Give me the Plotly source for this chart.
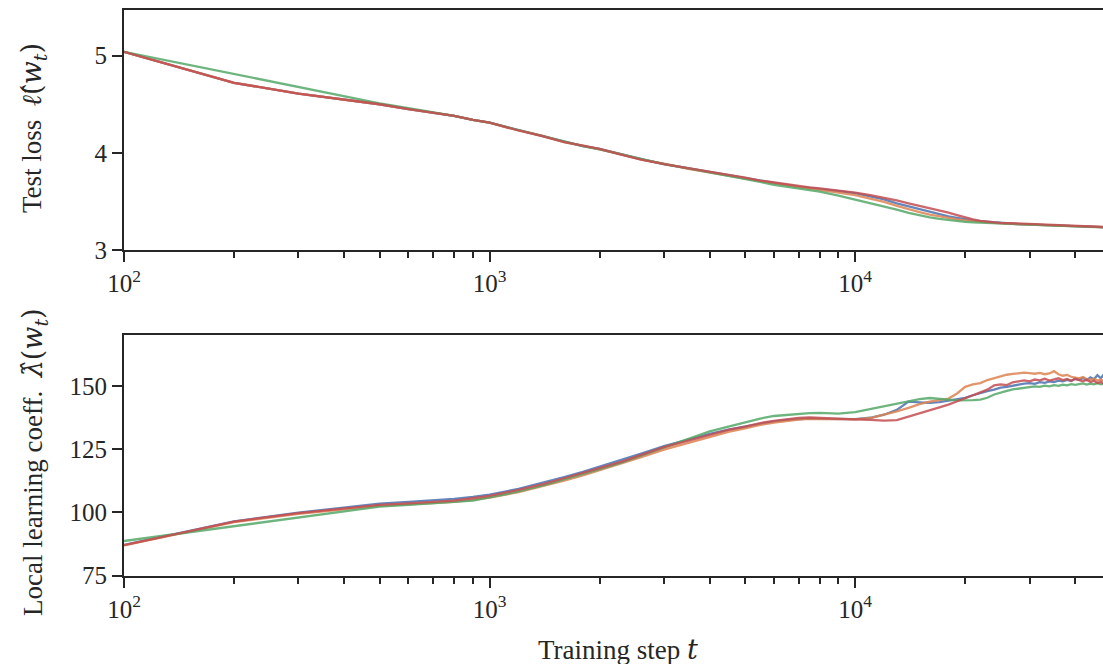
import plotly.graph_objects as go

# ---------------- data ----------------
steps = [100, 200, 300, 400, 500, 600, 700, 800, 900, 1000,
         1200, 1400, 1600, 1800, 2000, 2300, 2600, 3000, 3500, 4000,
         4500, 5000, 5500, 6000, 6500, 7000, 7500, 8000, 9000, 10000,
         11000, 12000, 13000, 14000, 15000, 16000, 17000, 18000, 19000, 20000,
         21000, 22000, 23000, 24000, 25000, 26000, 27000, 28000, 29000, 30000,
         31000, 32000, 33000, 34000, 35000, 36000, 37000, 38000, 39000, 40000,
         41000, 42000, 43000, 44000, 45000, 46000, 47000, 48000]

loss_blue = [5.04, 4.72, 4.61, 4.55, 4.50, 4.45, 4.41, 4.38, 4.34, 4.31,
             4.235, 4.17, 4.115, 4.07, 4.04, 3.98, 3.935, 3.885, 3.84, 3.805,
             3.77, 3.74, 3.715, 3.69, 3.67, 3.65, 3.64, 3.625, 3.605, 3.585,
             3.555, 3.52, 3.48, 3.45, 3.42, 3.39, 3.365, 3.345, 3.33, 3.315,
             3.305, 3.297, 3.29, 3.283, 3.278, 3.274, 3.27, 3.267, 3.265, 3.263,
             3.261, 3.259, 3.257, 3.255, 3.253, 3.252, 3.25, 3.249, 3.247, 3.246,
             3.244, 3.243, 3.241, 3.24, 3.239, 3.237, 3.236, 3.235]
loss_orange = [5.04, 4.72, 4.61, 4.55, 4.50, 4.45, 4.41, 4.38, 4.34, 4.31,
               4.23, 4.175, 4.11, 4.075, 4.035, 3.985, 3.93, 3.89, 3.835, 3.80,
               3.77, 3.735, 3.71, 3.685, 3.665, 3.645, 3.63, 3.615, 3.59, 3.565,
               3.53, 3.495, 3.455, 3.42, 3.39, 3.365, 3.345, 3.33, 3.315, 3.305,
               3.297, 3.29, 3.284, 3.279, 3.275, 3.271, 3.268, 3.265, 3.263, 3.261,
               3.259, 3.257, 3.255, 3.253, 3.252, 3.25, 3.249, 3.247, 3.246, 3.245,
               3.243, 3.242, 3.24, 3.239, 3.238, 3.236, 3.235, 3.234]
loss_green = [5.04, None, None, None, 4.51, 4.46, 4.42, 4.38, 4.34, 4.31,
              4.235, 4.17, 4.12, 4.07, 4.035, 3.985, 3.935, 3.885, 3.84, 3.80,
              3.765, 3.73, 3.70, 3.67, 3.65, 3.63, 3.615, 3.60, 3.56, 3.52,
              3.485, 3.447, 3.415, 3.383, 3.355, 3.336, 3.32, 3.308, 3.297, 3.289,
              3.284, 3.28, 3.277, 3.274, 3.271, 3.269, 3.267, 3.265, 3.263, 3.261,
              3.259, 3.257, 3.255, 3.253, 3.251, 3.25, 3.248, 3.246, 3.245, 3.244,
              3.242, 3.241, 3.24, 3.238, 3.237, 3.235, 3.234, 3.232]
loss_red = [5.04, 4.72, 4.61, 4.55, 4.50, 4.45, 4.41, 4.38, 4.34, 4.31,
            4.23, 4.17, 4.11, 4.07, 4.04, 3.98, 3.93, 3.885, 3.845, 3.81,
            3.775, 3.745, 3.715, 3.695, 3.675, 3.655, 3.645, 3.635, 3.615, 3.59,
            3.565, 3.54, 3.51, 3.48, 3.455, 3.43, 3.41, 3.385, 3.36, 3.335,
            3.315, 3.30, 3.29, 3.285, 3.28, 3.277, 3.274, 3.272, 3.27, 3.268,
            3.266, 3.264, 3.261, 3.259, 3.257, 3.255, 3.253, 3.252, 3.25, 3.248,
            3.246, 3.245, 3.243, 3.242, 3.24, 3.239, 3.237, 3.236]

llc_blue = [87.2, 96.5, 99.9, 102.0, 103.5, 104.2, 104.8, 105.3, 106.1, 107.0,
            109.3, 111.7, 114.0, 116.0, 118.0, 120.6, 123.2, 126.2, 128.8, 131.0,
            132.7, 134.0, 135.2, 136.0, 136.6, 137.0, 137.1, 137.0, 136.9, 136.9,
            137.4, 138.6, 140.5, 143.8, 143.5, 143.3, 143.6, 144.2, 144.9, 145.3,
            146.3, 147.2, 147.9, 148.5, 149.3, 149.6, 150.2, 150.5, 150.9, 151.1,
            150.8, 151.5, 151.2, 151.8, 151.5, 152.1, 151.8, 152.4, 151.9, 152.8,
            152.4, 153.1, 152.3, 153.4, 152.6, 154.2, 153.0, 154.8]
llc_orange = [87.0, 96.2, 99.4, 101.3, 102.6, 103.2, 103.7, 104.2, 105.0, 105.9,
              108.0, 110.3, 112.6, 114.6, 116.6, 119.2, 121.8, 124.8, 127.5, 129.9,
              131.8, 133.2, 134.6, 135.5, 136.2, 136.7, 137.0, 137.0, 136.9, 136.8,
              137.3, 138.6, 139.9, 141.3, 142.8, 143.8, 144.5, 145.0, 147.0, 149.6,
              150.6, 151.1, 152.3, 153.1, 153.8, 154.4, 154.7, 154.9, 155.2, 155.0,
              154.8, 155.1, 154.6, 154.9, 155.8, 154.6, 154.0, 154.3, 153.6, 153.3,
              153.0, 153.5, 152.7, 152.4, 152.8, 152.1, 152.5, 151.8]
llc_green = [88.7, None, None, None, 102.3, 103.0, 103.6, 104.1, 104.7, 105.9,
             108.3, 110.7, 113.0, 115.1, 117.1, 119.8, 122.5, 125.8, 129.2, 132.0,
             133.9, 135.5, 137.1, 138.1, 138.6, 139.0, 139.2, 139.3, 139.0, 139.6,
             140.8, 142.0, 143.0, 144.0, 144.8, 145.2, 145.0, 144.6, 144.3, 144.2,
             144.4, 144.6, 145.3, 146.6, 147.4, 148.0, 148.6, 148.9, 149.3, 149.3,
             149.8, 149.6, 150.1, 149.8, 150.3, 150.0, 150.5, 150.2, 150.7, 150.4,
             150.7, 151.0, 150.5, 150.9, 150.6, 151.1, 150.6, 150.9]
llc_red = [87.1, 96.4, 99.7, 101.7, 103.0, 103.6, 104.2, 104.7, 105.6, 106.5,
           108.9, 111.2, 113.5, 115.5, 117.5, 120.1, 122.7, 125.8, 128.4, 130.7,
           132.6, 133.9, 135.3, 136.2, 136.9, 137.3, 137.5, 137.4, 137.0, 136.8,
           136.6, 136.3, 136.5, 137.8, 139.0, 140.3, 141.5, 142.6, 143.8, 145.0,
           146.3, 147.4, 148.5, 150.2, 150.6, 150.3, 151.4, 151.8, 152.2, 151.8,
           152.5, 152.2, 152.8, 152.1, 152.7, 153.0, 152.3, 152.7, 152.0, 152.8,
           152.3, 151.8, 152.4, 151.5, 152.0, 151.1, 151.6, 150.8]

series_names = ["run 1", "run 2", "run 3", "run 4"]
series_colors = ["#4C72B0", "#DD8452", "#55A868", "#C44E52"]
loss_series = [loss_blue, loss_orange, loss_green, loss_red]
llc_series = [llc_blue, llc_orange, llc_green, llc_red]

x_tickvals = [100, 1000, 10000]
x_ticktext = ["10<sup>2</sup>", "10<sup>3</sup>", "10<sup>4</sup>"]
x_minor = [m * d for d in (100, 1000, 10000) for m in range(2, 10)]
loss_ticks = [3, 4, 5]
llc_ticks = [75, 100, 125, 150]

# ---------------- figure ----------------
W, H = 1103, 664
INK = "#262626"
FONT = "Liberation Serif"
TICK_SIZE = 25
LABEL_SIZE = 27
MATH = 'font-family:DejaVu Serif'

fig = go.Figure()
for name, col, ys in zip(series_names, series_colors, loss_series):
    fig.add_trace(go.Scatter(x=steps, y=ys, mode="lines", name=name, connectgaps=True,
                             line=dict(color=col, width=2.3), opacity=0.85,
                             xaxis="x", yaxis="y", showlegend=False))
for name, col, ys in zip(series_names, series_colors, llc_series):
    fig.add_trace(go.Scatter(x=steps, y=ys, mode="lines", name=name, connectgaps=True,
                             line=dict(color=col, width=2.3), opacity=0.85,
                             xaxis="x2", yaxis="y2", showlegend=False))

def xax(anchor):
    return dict(type="log", range=[2, 4.678], domain=[124 / W, 1.0], anchor=anchor,
                automargin=False,
                showline=True, linecolor=INK, linewidth=2, mirror=True,
                ticks="outside", ticklen=10, tickwidth=2, tickcolor=INK,
                tickvals=x_tickvals, ticktext=x_ticktext,
                tickfont=dict(family=FONT, size=TICK_SIZE, color=INK),
                showgrid=False, zeroline=False,
                minor=dict(tickvals=x_minor, ticks="outside", ticklen=6,
                           tickwidth=1.5, tickcolor=INK, showgrid=False))

def yax(anchor, dom, rng, tv):
    return dict(domain=dom, range=rng, anchor=anchor, automargin=False,
                showline=True, linecolor=INK, linewidth=2,
                ticks="outside", ticklen=10, tickwidth=2, tickcolor=INK,
                tickvals=tv, tickfont=dict(family=FONT, size=TICK_SIZE, color=INK),
                showgrid=False, zeroline=False)

math_loss = ('<span style="%s"><i>ℓ\u0302</i>(<i>w</i><sub><i>t</i></sub>)</span>' % MATH)
math_llc = ('<span style="%s"><i>λ\u0302</i>(<i>w</i><sub><i>t</i></sub>)</span>' % MATH)

fig.update_layout(
    width=W, height=H,
    margin=dict(l=0, r=0, t=0, b=0, autoexpand=False),
    paper_bgcolor="white", plot_bgcolor="white",
    showlegend=False,
    xaxis=xax("y"),
    xaxis2=xax("y2"),
    yaxis=yax("x", [1 - 250 / H, 1 - 10 / H], [3, 5.47], loss_ticks),
    yaxis2=yax("x2", [1 - 575.7 / H, 1 - 335 / H], [75, 170.1], llc_ticks),
    annotations=[
        dict(text="Test loss  " + math_loss,
             x=34 / W, y=1 - 128 / H, xref="paper", yref="paper",
             xanchor="center", yanchor="middle", textangle=-90, showarrow=False,
             font=dict(family=FONT, size=LABEL_SIZE, color=INK)),
        dict(text="Local learning coeff.  " + math_llc,
             x=34 / W, y=1 - 462 / H, xref="paper", yref="paper",
             xanchor="center", yanchor="middle", textangle=-90, showarrow=False,
             font=dict(family=FONT, size=LABEL_SIZE, color=INK)),
        dict(text='Training step <span style="%s"><i>t</i></span>' % MATH,
             x=618 / W, y=1 - 649 / H, xref="paper", yref="paper",
             xanchor="center", yanchor="middle", showarrow=False,
             font=dict(family=FONT, size=LABEL_SIZE, color=INK)),
    ],
)

fig.write_html("out.html")
